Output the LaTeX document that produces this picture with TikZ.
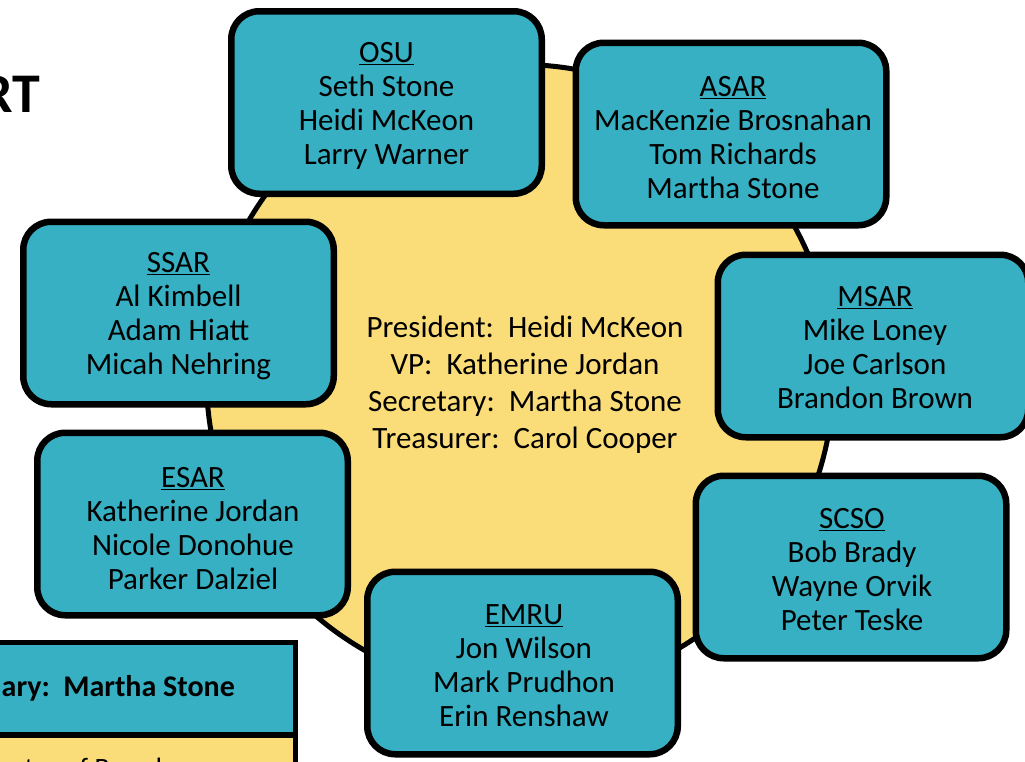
\documentclass[tikz,border=0pt]{standalone}
\usepackage{fontspec}
\setmainfont{Carlito}
\definecolor{tealbox}{RGB}{54,176,194}
\definecolor{sun}{RGB}{250,220,120}
\tikzset{
  unit/.style={draw=black, line width=6.5pt, fill=tealbox, rounded corners=28pt,
    minimum width=310.5pt, minimum height=182.5pt, inner sep=0pt},
  unittext/.style={align=center, inner sep=0pt, font=\fontsize{31}{34}\selectfont},
  hubtext/.style={align=center, inner sep=0pt, font=\fontsize{31}{37}\selectfont},
  plainbox/.style={draw=black, line width=5pt, inner sep=0pt},
}
\begin{document}
\begin{tikzpicture}[x=1pt,y=-1pt]
\useasboundingbox (0,0) rectangle (1025,761);
\clip (0,0) rectangle (1025,761);

% title fragment
\node[anchor=base east, inner sep=0pt, font=\fontsize{56}{60}\selectfont\bfseries] (title) at (40,112) {RT};

% central circle
\node[circle, draw=black, line width=5pt, fill=sun, minimum size=627pt, inner sep=0pt] (hub) at (520,378) {};
\node[hubtext] (officers) at (525,385) {President:\ \ Heidi McKeon\\VP:\ \ Katherine Jordan\\Secretary:\ \ Martha Stone\\Treasurer:\ \ Carol Cooper};

% member units
\node[unit] (osu) at (386.5,102.5) {};
\node[unittext] (osu-t) at (386.5,106) {\underline{OSU}\\Seth Stone\\Heidi McKeon\\Larry Warner};
\node[unit] (asar) at (731,134) {};
\node[unittext] (asar-t) at (733,137.5) {\underline{ASAR}\\MacKenzie Brosnahan\\Tom Richards\\Martha Stone};
\node[unit] (ssar) at (178.5,313) {};
\node[unittext] (ssar-t) at (178.5,316.5) {\underline{SSAR}\\Al Kimbell\\Adam Hiatt\\Micah Nehring};
\node[unit] (msar) at (873,346) {};
\node[unittext] (msar-t) at (875,347.5) {\underline{MSAR}\\Mike Loney\\Joe Carlson\\Brandon Brown};
\node[unit] (esar) at (192.5,524) {};
\node[unittext] (esar-t) at (193,529) {\underline{ESAR}\\Katherine Jordan\\Nicole Donohue\\Parker Dalziel};
\node[unit] (scso) at (851,567) {};
\node[unittext] (scso-t) at (852,570) {\underline{SCSO}\\Bob Brady\\Wayne Orvik\\Peter Teske};
\node[unit] (emru) at (522.5,663) {};
\node[unittext] (emru-t) at (524,665.5) {\underline{EMRU}\\Jon Wilson\\Mark Prudhon\\Erin Renshaw};

% bottom-left fragments
\node[plainbox, fill=sun, minimum width=315pt, minimum height=60pt] (minutes) at (137.75,765) {};
\node[plainbox, fill=tealbox, minimum width=315pt, minimum height=92pt] (secbox) at (137.75,688.5) {};
\node[anchor=east, inner sep=0pt, font=\fontsize{30}{32}\selectfont\bfseries] (sectext) at (235,688) {ary:\ \ Martha Stone};
\node[anchor=base west, inner sep=0pt, font=\fontsize{28}{30}\selectfont] (mintext) at (-5,777) {nutes of Board};
\end{tikzpicture}
\end{document}
